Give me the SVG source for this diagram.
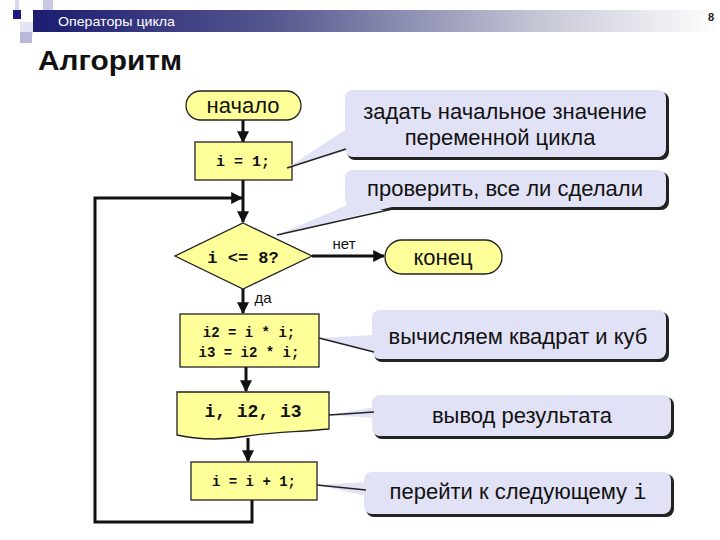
<svg xmlns="http://www.w3.org/2000/svg" width="720" height="540" viewBox="0 0 720 540">
<defs>
<linearGradient id="hdr" x1="0" y1="0" x2="1" y2="0">
<stop offset="0" stop-color="#1c1c72"/>
<stop offset="0.35" stop-color="#55578f"/>
<stop offset="0.75" stop-color="#c9cad8"/>
<stop offset="1" stop-color="#ffffff"/>
</linearGradient>
<marker id="ah" viewBox="0 0 10 10" refX="9" refY="5" markerWidth="4" markerHeight="4" orient="auto" markerUnits="strokeWidth">
<path d="M0,0 L10,5 L0,10 z" fill="#111"/>
</marker>
</defs>
<style>
.blk{fill:#ffff99;stroke:#222;stroke-width:1.3}
.code{font-family:"Liberation Mono","DejaVu Sans Mono",monospace;font-weight:bold;fill:#111;text-anchor:middle}
.sans{font-family:"Liberation Sans",Arial,sans-serif;fill:#111;text-anchor:middle}
.big{font-size:22px}
.call{fill:#e2e2f6}
.shd{fill:#222}
.arr{stroke:#111;stroke-width:3;fill:none;marker-end:url(#ah)}
.ptr{stroke:#222;stroke-width:1.5;fill:none}
</style>
<rect width="720" height="540" fill="#fff"/>
<g id="header">
<rect x="15" y="0" width="4" height="12" fill="#d8d8ee"/>
<rect x="43" y="0" width="10" height="12" fill="#c8c8e4"/>
<rect x="20" y="22" width="13" height="13" fill="#e4e4f2"/>
<rect x="20" y="32" width="12" height="11" fill="#b8b8d8"/>
<rect x="33" y="10" width="687" height="22" fill="url(#hdr)"/>
<rect x="13" y="10" width="8" height="9" fill="#1a1a80"/>
<text x="58" y="26" font-family="Liberation Sans,Arial,sans-serif" font-size="13.5" fill="#fff" textLength="117" lengthAdjust="spacingAndGlyphs">Операторы цикла</text>
<text x="708" y="21" font-family="Liberation Sans,Arial,sans-serif" font-size="11" font-weight="bold" fill="#222">8</text>
<text x="38" y="70" font-family="Liberation Sans,Arial,sans-serif" font-size="27" font-weight="bold" fill="#111" textLength="144" lengthAdjust="spacingAndGlyphs">Алгоритм</text>
</g>
<g id="connectors">
<line class="arr" x1="243" y1="120" x2="243" y2="142"/>
<line class="arr" x1="243" y1="180" x2="243" y2="222"/>
<polyline class="arr" points="252,500 252,522 95,522 95,198 242,198"/>
<line class="arr" x1="312" y1="256" x2="384" y2="256"/>
<line class="arr" x1="243" y1="289" x2="243" y2="313"/>
<line class="arr" x1="246" y1="367" x2="246" y2="391"/>
<line class="arr" x1="248" y1="438" x2="248" y2="461"/>
<text class="sans" x="344" y="249" font-size="15">нет</text>
<text class="sans" x="263" y="303" font-size="15">да</text>
</g>
<g id="start">
<rect class="blk" x="186" y="91" width="115" height="29" rx="14.5"/>
<text class="sans big" x="243" y="113">начало</text>
</g>
<g id="init">
<rect class="blk" x="195" y="142" width="97" height="38"/>
<text class="code" x="243" y="166" font-size="15">i = 1;</text>
</g>
<g id="cond">
<polygon class="blk" points="243,223 312,256 243,289 175,256"/>
<text class="code" x="243" y="263" font-size="17">i &lt;= 8?</text>
</g>
<g id="end">
<rect class="blk" x="385" y="240" width="117" height="34" rx="17"/>
<text class="sans big" x="443" y="265">конец</text>
</g>
<g id="calc">
<rect class="blk" x="180" y="314" width="139" height="53"/>
<text class="code" x="249" y="337" font-size="14">i2 = i * i;</text>
<text class="code" x="249" y="357" font-size="14">i3 = i2 * i;</text>
</g>
<g id="output">
<path class="blk" d="M177,392 H329 V429 C300,432 270,432 248,436 C225,440 200,440 177,435 Z"/>
<text class="code" x="253" y="417" font-size="18">i, i2, i3</text>
</g>
<g id="incr">
<rect class="blk" x="191" y="462" width="126" height="38"/>
<text class="code" x="254" y="486" font-size="14">i = i + 1;</text>
</g>
<g id="note1">
<rect class="shd" x="347" y="92" width="322" height="68" rx="8"/>
<rect class="call" x="345" y="90" width="321" height="67" rx="8"/>
<polygon class="call" points="348,128 287,168 348,150"/>
<line class="ptr" x1="287" y1="168" x2="346" y2="149"/>
<text class="sans big" x="505" y="119">задать начальное значение</text>
<text class="sans big" x="500" y="145">переменной цикла</text>
</g>
<g id="note2">
<rect class="shd" x="347" y="172" width="322" height="38" rx="8"/>
<rect class="call" x="345" y="170" width="321" height="37" rx="8"/>
<polygon class="call" points="350,204 277,235 396,206"/>
<line class="ptr" x1="277" y1="235" x2="397" y2="208"/>
<text class="sans big" x="505" y="196">проверить, все ли сделали</text>
</g>
<g id="note3">
<rect class="shd" x="374" y="312" width="295" height="50" rx="8"/>
<rect class="call" x="372" y="310" width="294" height="49" rx="8"/>
<polygon class="call" points="375,335 319,338 375,352"/>
<line class="ptr" x1="319" y1="338" x2="374" y2="352"/>
<text class="sans big" x="518" y="344">вычисляем квадрат и куб</text>
</g>
<g id="note4">
<rect class="shd" x="374" y="397" width="300" height="42" rx="8"/>
<rect class="call" x="372" y="395" width="299" height="41" rx="8"/>
<polygon class="call" points="375,407 329,415 375,418"/>
<line class="ptr" x1="329" y1="415" x2="374" y2="412"/>
<text class="sans big" x="522" y="423">вывод результата</text>
</g>
<g id="note5">
<rect class="shd" x="366" y="474" width="308" height="43" rx="8"/>
<rect class="call" x="364" y="472" width="307" height="42" rx="8"/>
<polygon class="call" points="367,482 317,485 367,496"/>
<line class="ptr" x1="317" y1="485" x2="366" y2="490"/>
<text class="sans big" x="518" y="499">перейти к следующему <tspan font-family="Liberation Mono,monospace">i</tspan></text>
</g>
</svg>
